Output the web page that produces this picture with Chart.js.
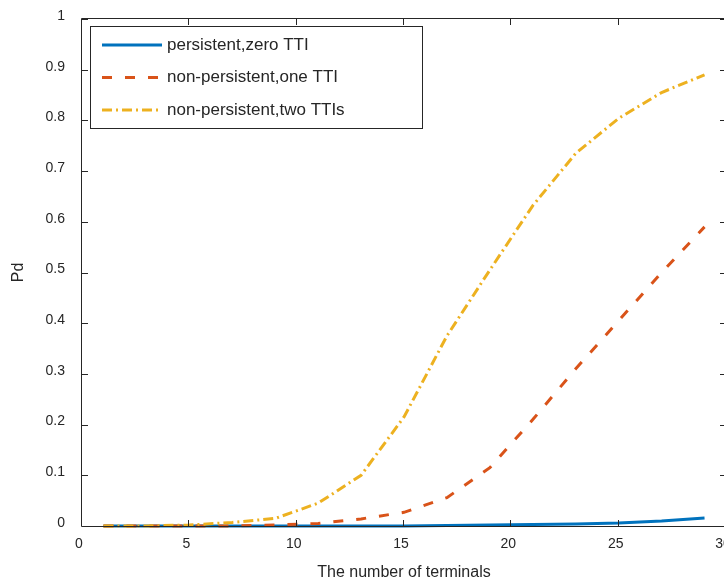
<!DOCTYPE html>
<html>
<head>
<meta charset="utf-8">
<script src="https://cdn.jsdelivr.net/npm/chart.js@4.4.1/dist/chart.umd.min.js"></script>
<style>
  html, body { margin: 0; padding: 0; background: #fff; overflow: hidden; }
  #wrap { width: 726px; height: 582px; position: relative; }
</style>
</head>
<body>
<div id="wrap"><canvas id="pdChart"></canvas></div>
<script>
  // values
  const terminals = [1, 3, 5, 7, 9, 11, 13, 15, 17, 19, 21, 23, 25, 27, 29];
  const persistentZero = [0, 0, 0, 0, 0, 0, 0, 0, 0.001, 0.002, 0.003, 0.004, 0.006, 0.01, 0.016];
  const nonPersistentOne = [0, 0, 0, 0, 0.002, 0.005, 0.014, 0.027, 0.056, 0.115, 0.21, 0.31, 0.405, 0.5, 0.59];
  const nonPersistentTwo = [0, 0, 0.002, 0.007, 0.015, 0.045, 0.1, 0.215, 0.375, 0.505, 0.632, 0.735, 0.804, 0.855, 0.89];
  const seriesNames = ['persistent,zero TTI', 'non-persistent,one TTI', 'non-persistent,two TTIs'];
  const xTickLabels = ['0', '5', '10', '15', '20', '25', '30'];
  const yTickLabels = ['0', '0.1', '0.2', '0.3', '0.4', '0.5', '0.6', '0.7', '0.8', '0.9', '1'];

  const axisColor = '#262626';
  const fontFamily = "'Liberation Sans', Arial, Helvetica, sans-serif";

  function toPoints(ys) {
    return terminals.map((x, i) => ({ x: x, y: ys[i] }));
  }

  // box round the axes with inward ticks on all four sides
  const framePlugin = {
    id: 'matlabFrame',
    afterDatasetsDraw(chart) {
      const { ctx, chartArea: a, scales } = chart;
      const tick = 6;
      ctx.save();
      ctx.strokeStyle = axisColor;
      ctx.lineWidth = 1;
      ctx.beginPath();
      ctx.moveTo(a.left - 0.5, a.top - 0.5);
      ctx.lineTo(a.right + 0.5, a.top - 0.5);
      ctx.lineTo(a.right + 0.5, a.bottom + 0.5);
      ctx.lineTo(a.left - 0.5, a.bottom + 0.5);
      ctx.closePath();
      scales.x.ticks.forEach(t => {
        const px = Math.round(scales.x.getPixelForValue(t.value)) - 0.5;
        ctx.moveTo(px, a.bottom);
        ctx.lineTo(px, a.bottom - tick);
        ctx.moveTo(px, a.top);
        ctx.lineTo(px, a.top + tick);
      });
      scales.y.ticks.forEach(t => {
        const py = Math.round(scales.y.getPixelForValue(t.value)) + 0.5;
        ctx.moveTo(a.left, py);
        ctx.lineTo(a.left + tick, py);
        ctx.moveTo(a.right, py);
        ctx.lineTo(a.right - tick, py);
      });
      ctx.stroke();
      ctx.restore();
    }
  };

  // legend in a boxed panel at the top left of the axes
  const boxLegend = {
    id: 'boxLegend',
    afterDraw(chart) {
      const ctx = chart.ctx;
      ctx.save();
      ctx.fillStyle = '#fff';
      ctx.fillRect(90.5, 26.5, 332, 102);
      ctx.strokeStyle = axisColor;
      ctx.lineWidth = 1;
      ctx.strokeRect(90.5, 26.5, 332, 102);
      ctx.font = '17px ' + fontFamily;
      ctx.textBaseline = 'middle';
      chart.data.datasets.forEach((ds, i) => {
        const y = 45 + i * 32.5;
        ctx.strokeStyle = ds.borderColor;
        ctx.lineWidth = ds.borderWidth;
        ctx.setLineDash(ds.borderDash || []);
        ctx.beginPath();
        ctx.moveTo(102, y);
        ctx.lineTo(162, y);
        ctx.stroke();
        ctx.setLineDash([]);
        ctx.fillStyle = axisColor;
        ctx.fillText(ds.label, 167, y);
      });
      ctx.restore();
    }
  };

  const ctx = document.getElementById('pdChart').getContext('2d');

  const chartData = {
    datasets: [
      {
        label: seriesNames[0],
        data: toPoints(persistentZero),
        borderColor: '#0072BD',
        borderWidth: 3,
        order: 3
      },
      {
        label: seriesNames[1],
        data: toPoints(nonPersistentOne),
        borderColor: '#D95319',
        borderWidth: 3,
        borderDash: [10, 13],
        order: 2
      },
      {
        label: seriesNames[2],
        data: toPoints(nonPersistentTwo),
        borderColor: '#EDB120',
        borderWidth: 3,
        borderDash: [10, 4, 2, 4],
        order: 1
      }
    ]
  };

  const chartConfig = {
    type: 'line',
    data: chartData,
    options: {
      responsive: true,
      maintainAspectRatio: false,
      animation: false,
      layout: { padding: { top: 19, left: 0, right: 0, bottom: 0 } },
      elements: {
        point: { radius: 0 },
        line: { tension: 0, fill: false, borderCapStyle: 'butt' }
      },
      datasets: { line: { clip: false } },
      plugins: {
        legend: { display: false },
        tooltip: { enabled: false }
      },
      scales: {
        x: {
          type: 'linear',
          min: 0,
          max: 30,
          grid: { display: false, drawTicks: false, tickLength: 0 },
          border: { display: false },
          ticks: {
            stepSize: 5,
            padding: 10,
            labelOffset: -3,
            maxRotation: 0,
            autoSkip: false,
            color: axisColor,
            font: { family: fontFamily, size: 14 },
            callback: (v, i) => xTickLabels[i]
          },
          title: {
            display: true,
            text: 'The number of terminals',
            color: axisColor,
            font: { family: fontFamily, size: 16 },
            padding: { top: 0, bottom: 0 }
          },
          afterFit(scale) {
            scale.height = 56;
            scale.paddingLeft = 0;
            scale.paddingRight = 0;
          }
        },
        y: {
          min: 0,
          max: 1,
          grid: { display: false, drawTicks: false, tickLength: 0 },
          border: { display: false },
          ticks: {
            stepSize: 0.1,
            padding: 17,
            labelOffset: -3,
            color: axisColor,
            font: { family: fontFamily, size: 14 },
            callback: (v, i) => yTickLabels[i]
          },
          title: {
            display: true,
            text: 'Pd',
            color: axisColor,
            font: { family: fontFamily, size: 16 },
            padding: { top: 9, bottom: 0 }
          },
          afterFit(scale) {
            scale.width = 82;
            scale.paddingTop = 0;
            scale.paddingBottom = 0;
          }
        }
      }
    },
    plugins: [framePlugin, boxLegend]
  };

  const pdChart = new Chart(ctx, chartConfig);
</script>
</body>
</html>
